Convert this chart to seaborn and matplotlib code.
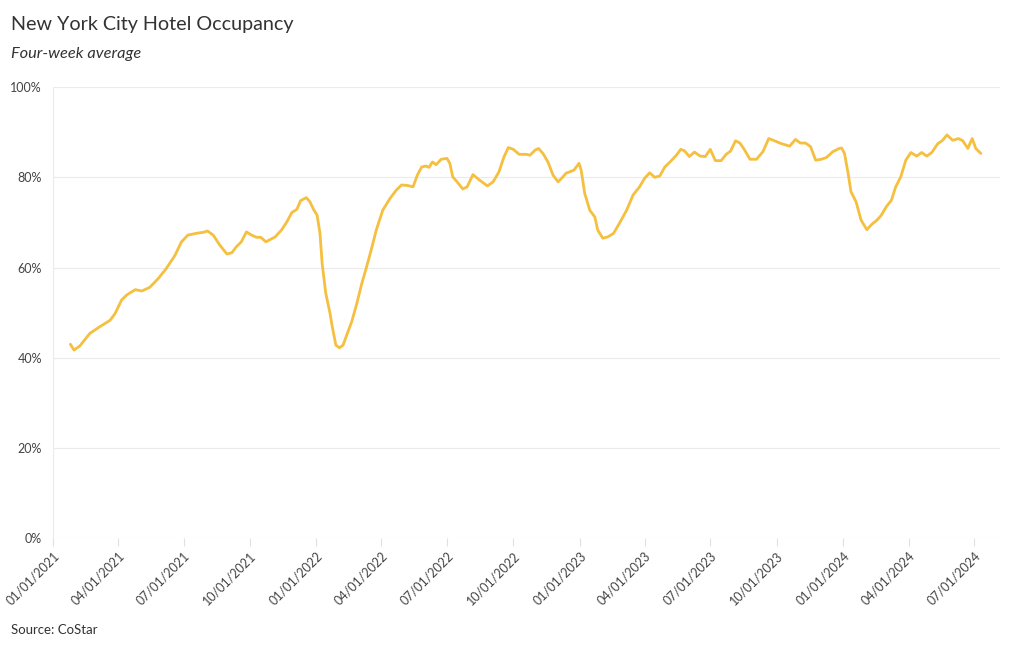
import matplotlib
matplotlib.use("Agg")
import matplotlib.pyplot as plt
import matplotlib.dates as mdates
from matplotlib.ticker import FuncFormatter
import seaborn as sns
import pandas as pd

dates = [
    "2021-01-25", "2021-01-30", "2021-02-07", "2021-02-21", "2021-03-07", "2021-03-21", "2021-03-28",
    "2021-04-06", "2021-04-13", "2021-04-25", "2021-05-04", "2021-05-15", "2021-05-27", "2021-06-07",
    "2021-06-19", "2021-06-28", "2021-07-07", "2021-07-19", "2021-07-28", "2021-08-03", "2021-08-11",
    "2021-08-20", "2021-08-30", "2021-09-06", "2021-09-12", "2021-09-19", "2021-09-26", "2021-10-03",
    "2021-10-10", "2021-10-16", "2021-10-23", "2021-10-29", "2021-11-05", "2021-11-14", "2021-11-21",
    "2021-11-28", "2021-12-05", "2021-12-10", "2021-12-18", "2021-12-23", "2021-12-28", "2022-01-02",
    "2022-01-06", "2022-01-09", "2022-01-14", "2022-01-20", "2022-01-23", "2022-01-28", "2022-02-02",
    "2022-02-07", "2022-02-12", "2022-02-19", "2022-02-26", "2022-03-05", "2022-03-11", "2022-03-18",
    "2022-03-25", "2022-04-03", "2022-04-13", "2022-04-22", "2022-04-29", "2022-05-07", "2022-05-15",
    "2022-05-21", "2022-05-27", "2022-06-02", "2022-06-06", "2022-06-11", "2022-06-16", "2022-06-23",
    "2022-07-01", "2022-07-05", "2022-07-09", "2022-07-15", "2022-07-23", "2022-07-29", "2022-08-06",
    "2022-08-15", "2022-08-26", "2022-09-03", "2022-09-11", "2022-09-18", "2022-09-24", "2022-10-01",
    "2022-10-09", "2022-10-19", "2022-10-24", "2022-10-31", "2022-11-05", "2022-11-11", "2022-11-18",
    "2022-11-25", "2022-12-02", "2022-12-07", "2022-12-13", "2022-12-24", "2022-12-31", "2023-01-03",
    "2023-01-08", "2023-01-15", "2023-01-22", "2023-01-26", "2023-02-02", "2023-02-09", "2023-02-17",
    "2023-02-25", "2023-03-07", "2023-03-16", "2023-03-25", "2023-04-01", "2023-04-08", "2023-04-15",
    "2023-04-22", "2023-04-29", "2023-05-08", "2023-05-15", "2023-05-21", "2023-05-26", "2023-06-02",
    "2023-06-09", "2023-06-17", "2023-06-24", "2023-07-01", "2023-07-08", "2023-07-16", "2023-07-23",
    "2023-07-29", "2023-08-05", "2023-08-11", "2023-08-17", "2023-08-25", "2023-09-03", "2023-09-12",
    "2023-09-20", "2023-09-28", "2023-10-07", "2023-10-19", "2023-10-27", "2023-11-03", "2023-11-10",
    "2023-11-17", "2023-11-24", "2023-12-02", "2023-12-09", "2023-12-18", "2023-12-27", "2023-12-30",
    "2024-01-03", "2024-01-08", "2024-01-12", "2024-01-19", "2024-01-26", "2024-02-03", "2024-02-10",
    "2024-02-17", "2024-02-23", "2024-03-01", "2024-03-08", "2024-03-14", "2024-03-21", "2024-03-28",
    "2024-04-04", "2024-04-12", "2024-04-19", "2024-04-26", "2024-05-03", "2024-05-11", "2024-05-18",
    "2024-05-24", "2024-06-01", "2024-06-09", "2024-06-15", "2024-06-22", "2024-06-28", "2024-07-03",
    "2024-07-10",
]

occupancy = [
    43.0, 41.7, 42.6, 45.4, 46.9, 48.3, 49.8,
    52.8, 53.9, 55.1, 54.8, 55.6, 57.6, 59.8,
    62.7, 65.7, 67.2, 67.6, 67.8, 68.1, 67.2,
    65.0, 63.0, 63.3, 64.6, 65.7, 67.9, 67.2,
    66.7, 66.7, 65.7, 66.2, 66.8, 68.4, 70.1,
    72.2, 72.9, 74.8, 75.5, 74.6, 72.9, 71.6,
    67.6, 60.9, 54.3, 49.8, 46.9, 42.8, 42.2,
    42.8, 45.0, 48.0, 52.0, 56.5, 59.8, 63.9,
    68.3, 72.7, 75.3, 77.2, 78.3, 78.2, 77.9,
    80.5, 82.3, 82.5, 82.2, 83.4, 82.8, 84.0,
    84.2, 83.1, 80.1, 79.0, 77.4, 77.9, 80.6,
    79.4, 78.1, 79.0, 81.2, 84.5, 86.6, 86.2,
    85.1, 85.1, 84.9, 86.0, 86.4, 85.3, 83.4,
    80.5, 79.0, 79.8, 80.9, 81.6, 83.1, 81.6,
    76.4, 72.7, 71.2, 68.3, 66.5, 66.8, 67.6,
    69.8, 72.7, 76.1, 77.9, 79.8, 81.0, 80.0,
    80.3, 82.3, 83.7, 84.9, 86.2, 85.9, 84.6,
    85.6, 84.7, 84.6, 86.2, 83.7, 83.7, 85.1,
    85.8, 88.1, 87.6, 86.2, 84.0, 84.0, 85.7,
    88.6, 88.1, 87.5, 86.9, 88.4, 87.6, 87.6,
    86.8, 83.8, 84.0, 84.4, 85.7, 86.4, 86.5,
    85.3, 80.9, 76.8, 74.6, 70.5, 68.4, 69.6,
    70.5, 71.6, 73.5, 74.9, 77.9, 80.1, 83.8,
    85.5, 84.7, 85.5, 84.7, 85.5, 87.4, 88.2,
    89.4, 88.2, 88.6, 88.1, 86.4, 88.6, 86.4,
    85.3,
]

tick_dates = ["2021-01-01", "2021-04-01", "2021-07-01", "2021-10-01",
              "2022-01-01", "2022-04-01", "2022-07-01", "2022-10-01",
              "2023-01-01", "2023-04-01", "2023-07-01", "2023-10-01",
              "2024-01-01", "2024-04-01", "2024-07-01"]
y_ticks = [0, 20, 40, 60, 80, 100]

title = "New York City Hotel Occupancy"
subtitle = "Four-week average"
source = "Source: CoStar"

df = pd.DataFrame({"date": pd.to_datetime(dates), "occupancy": occupancy})

sns.set_theme(style="white")
plt.rcParams["font.family"] = ["Lato", "DejaVu Sans"]

fig = plt.figure(figsize=(10.2, 6.5), dpi=100)
ax = fig.add_axes([0.052, 0.172, 0.928, 0.694])

sns.lineplot(data=df, x="date", y="occupancy", ax=ax, color="#F5BF3F", linewidth=2.0)

ax.set_ylim(0, 100)
ax.set_xlim(pd.Timestamp("2021-01-01"), pd.Timestamp("2024-08-05"))
ax.set_yticks(y_ticks)
ax.yaxis.set_major_formatter(FuncFormatter(lambda v, p: f"{int(v)}%"))
ax.set_xticks(pd.to_datetime(tick_dates))
ax.xaxis.set_major_formatter(mdates.DateFormatter("%m/%d/%Y"))
ax.grid(axis="y", color="#ebebeb", linewidth=0.8)
ax.grid(axis="x", visible=False)
for s in ["top", "right", "bottom"]:
    ax.spines[s].set_visible(False)
ax.spines["left"].set_color("#ebebeb")
ax.spines["left"].set_linewidth(0.8)

ax.tick_params(axis="y", length=0, labelsize=9, labelcolor="#444444", pad=8)
ax.tick_params(axis="x", length=6, width=0.8, color="#e0e0e0", labelsize=9,
               labelcolor="#444444", pad=2, direction="out", bottom=True)
for lbl in ax.get_xticklabels():
    lbl.set_rotation(45)
    lbl.set_ha("right")
    lbl.set_rotation_mode("anchor")
    lbl.set_x(lbl.get_position()[0])
ax.set_xlabel("")
ax.set_ylabel("")

fig.text(0.011, 0.962, title, fontsize=14.2, color="#333333", va="center", ha="left")
fig.text(0.011, 0.917, subtitle, fontsize=11.8, color="#333333", style="italic", va="center", ha="left")
fig.text(0.011, 0.030, source, fontsize=9.5, color="#333333", va="center", ha="left")

fig.savefig("out.png", dpi=100)
